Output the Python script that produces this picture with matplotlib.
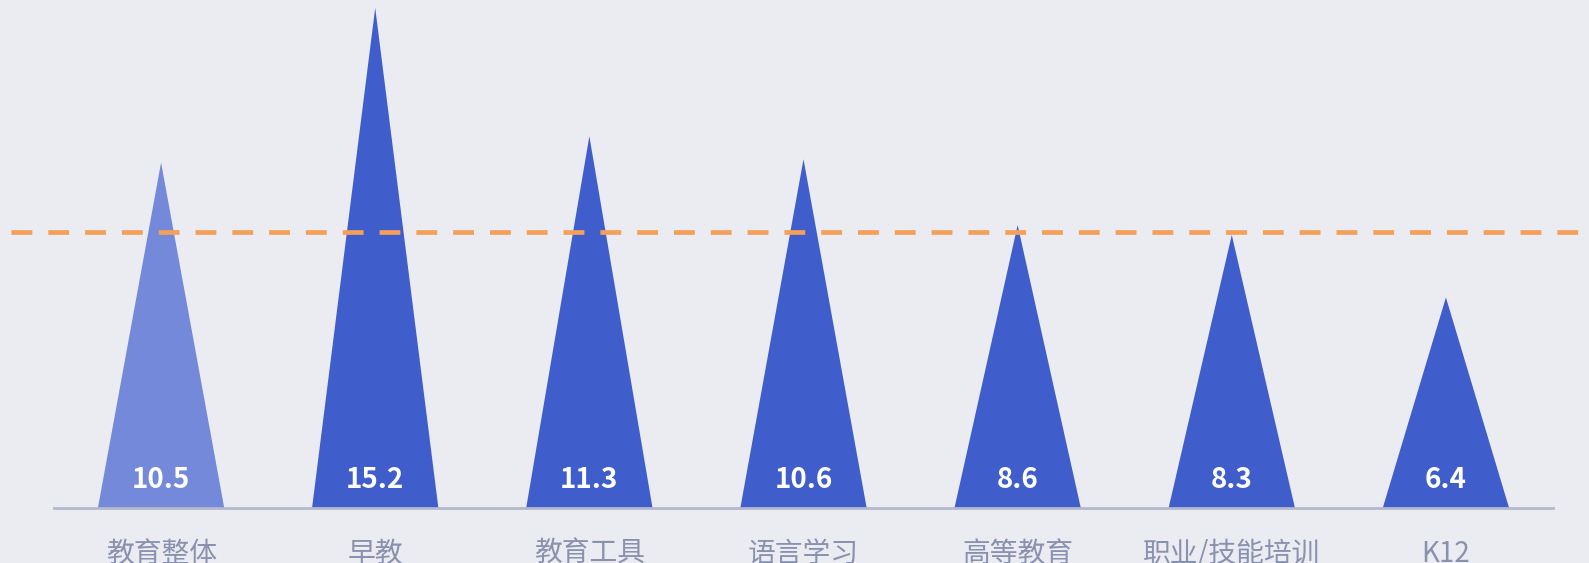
import numpy as np
import matplotlib
matplotlib.use('Agg')
import matplotlib.pyplot as plt

plt.rcParams['font.family'] = ['Noto Sans CJK SC', 'DejaVu Sans']
plt.rcParams['lines.scale_dashes'] = False

# data
categories = ['教育整体', '早教', '教育工具', '语言学习', '高等教育', '职业/技能培训', 'K12']
values = [10.5, 15.2, 11.3, 10.6, 8.6, 8.3, 6.4]
avg_line = 8.4

bg = '#EBECF1'
bar_col = '#3F5DCB'
first_col = '#7489DA'

fig = plt.figure(figsize=(15.89, 5.63), dpi=100, facecolor=bg)
ax = fig.add_axes([54 / 1589, 1 - 508 / 563, 1499 / 1589, 508 / 563])
ax.set_facecolor(bg)

half = 0.295
for i, v in enumerate(values):
    col = first_col if i == 0 else bar_col
    ax.fill([i - half, i, i + half], [0, v, 0], color=col, lw=0, zorder=2)
    ax.text(i, 0.85, '%.1f' % v, ha='center', va='center', color='white',
            fontsize=20, fontweight='bold', zorder=4)

# dashed reference line, runs past the axes on both sides
ax.plot([-0.5 - 43 / 214.3, 7.5], [avg_line, avg_line], color='#F4A05A', lw=3.4,
        dashes=(15, 11.5), clip_on=False, zorder=3)

ax.set_xlim(-0.5, 6.5)
ax.set_ylim(0, 508 / 32.9)
ax.set_xticks(np.arange(len(categories)))
ax.set_xticklabels(categories, fontsize=20, color='#8A91AE')
ax.tick_params(axis='x', length=0, pad=22)
ax.set_yticks([])
for s in ['top', 'right', 'left']:
    ax.spines[s].set_visible(False)
ax.spines['bottom'].set_color('#B4B8CC')
ax.spines['bottom'].set_linewidth(2)

fig.savefig('out.png', dpi=100, facecolor=bg)
